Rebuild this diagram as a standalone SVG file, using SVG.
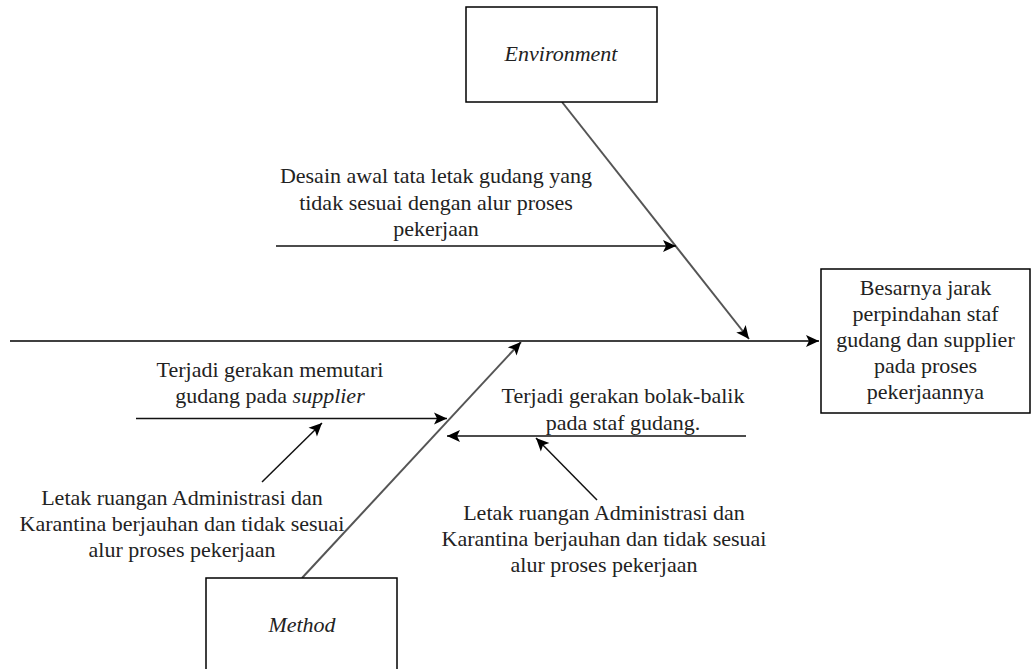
<svg xmlns="http://www.w3.org/2000/svg" width="1033" height="669" viewBox="0 0 1033 669">
<style>
.box{fill:#fff;stroke:#000;stroke-width:1.5}
.t{font-family:'Liberation Serif','Times New Roman',Times,'DejaVu Serif',serif;font-size:22px;fill:#222;text-anchor:middle}
.i{font-style:italic}
.spine{stroke:#404040;stroke-width:2;fill:none}
.bone{stroke:#555;stroke-width:2;fill:none}
.arr{stroke:#111;stroke-width:1.5;fill:none}
</style>
<defs>
<marker id="ah" markerUnits="userSpaceOnUse" markerWidth="16" markerHeight="14" refX="13" refY="6" orient="auto" viewBox="0 0 16 14" overflow="visible">
<path d="M0,0 L13,6 L0,12 L3,6 Z" fill="#000"/>
</marker>
</defs>
<g id="connectors">
<line class="spine" x1="10" y1="341" x2="819" y2="341" marker-end="url(#ah)"/>
<line class="bone" x1="562" y1="102" x2="749" y2="339" marker-end="url(#ah)"/>
<line class="bone" x1="302" y1="578" x2="521" y2="342" marker-end="url(#ah)"/>
<line class="arr" x1="276" y1="246" x2="676" y2="246" marker-end="url(#ah)"/>
<line class="arr" x1="136" y1="418.5" x2="447" y2="418.5" marker-end="url(#ah)"/>
<line class="arr" x1="746" y1="436" x2="447" y2="436" marker-end="url(#ah)"/>
<line class="arr" x1="262" y1="482" x2="322" y2="423" marker-end="url(#ah)"/>
<line class="arr" x1="597" y1="500" x2="536" y2="438" marker-end="url(#ah)"/>
</g>
<g id="environment">
<rect class="box" x="466" y="7" width="191" height="95"/>
<text class="t i" x="561" y="61">Environment</text>
</g>
<g id="method">
<rect class="box" x="206" y="578" width="191" height="100"/>
<text class="t i" x="302" y="632">Method</text>
</g>
<g id="effect">
<rect class="box" x="821" y="269" width="209" height="144"/>
<text class="t" x="925.5" y="295">Besarnya jarak</text>
<text class="t" x="925.5" y="321">perpindahan staf</text>
<text class="t" x="925.5" y="347">gudang dan supplier</text>
<text class="t" x="925.5" y="373">pada proses</text>
<text class="t" x="925.5" y="399">pekerjaannya</text>
</g>
<g id="cause-desain">
<text class="t" x="436" y="183">Desain awal tata letak gudang yang</text>
<text class="t" x="436" y="209.5">tidak sesuai dengan alur proses</text>
<text class="t" x="436" y="236">pekerjaan</text>
</g>
<g id="cause-supplier">
<text class="t" x="270" y="377">Terjadi gerakan memutari</text>
<text class="t" x="270" y="402.5">gudang pada <tspan class="i">supplier</tspan></text>
</g>
<g id="cause-bolak">
<text class="t" x="623" y="403">Terjadi gerakan bolak-balik</text>
<text class="t" x="623" y="429.5">pada staf gudang.</text>
</g>
<g id="sub-left">
<text class="t" x="182" y="505">Letak ruangan Administrasi dan</text>
<text class="t" x="182" y="531">Karantina berjauhan dan tidak sesuai</text>
<text class="t" x="182" y="557">alur proses pekerjaan</text>
</g>
<g id="sub-right">
<text class="t" x="604" y="520">Letak ruangan Administrasi dan</text>
<text class="t" x="604" y="546">Karantina berjauhan dan tidak sesuai</text>
<text class="t" x="604" y="572">alur proses pekerjaan</text>
</g>
</svg>
